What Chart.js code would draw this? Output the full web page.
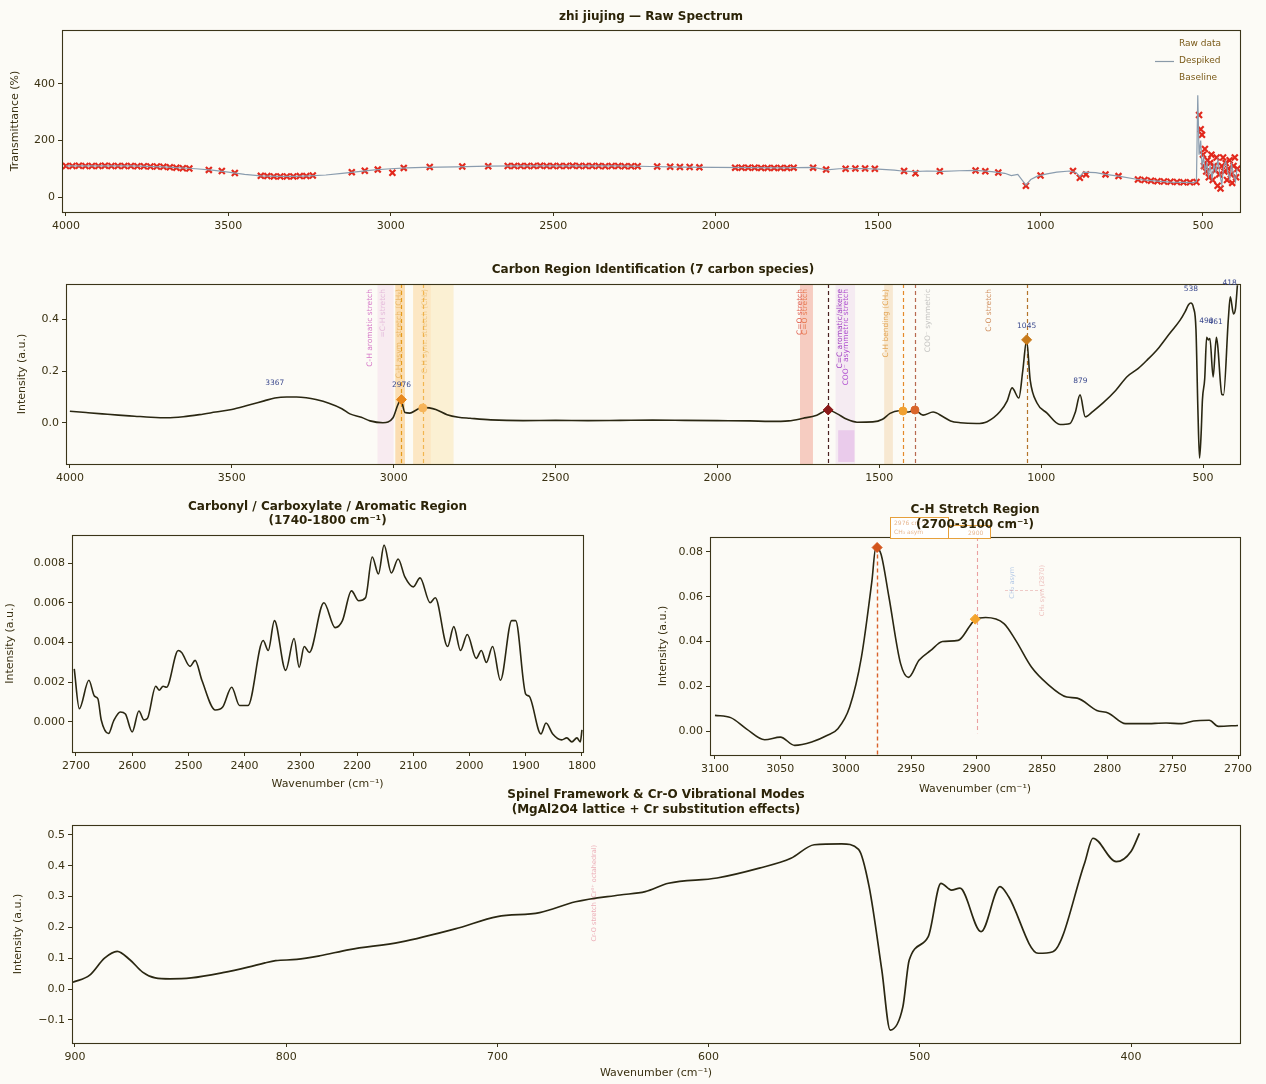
<!DOCTYPE html>
<html><head><meta charset="utf-8">
<script src="https://cdn.jsdelivr.net/npm/chart.js@4.4.1/dist/chart.umd.min.js"></script>
<style>
html,body{margin:0;padding:0;background:#fcfbf6;}
#wrap{position:relative;width:1266px;height:1084px;overflow:hidden;background:#fcfbf6;}
canvas{position:absolute;}
</style></head><body><div id="wrap">
<canvas id="c1" width="1266" height="240" style="left:0;top:0"></canvas>
<canvas id="c2" width="1266" height="250" style="left:0;top:250px"></canvas>
<canvas id="c3" width="600" height="300" style="left:0;top:495px"></canvas>
<canvas id="c4" width="616" height="305" style="left:650px;top:495px"></canvas>
<canvas id="c5" width="1266" height="299" style="left:0;top:785px"></canvas>
</div>
<script>
// ---------------- DATA ----------------
// Panel 1: raw spectrum (transmittance %)
const rawWn = [4000,3980,3960,3940,3920,3900,3880,3860,3840,3820,3800,3780,3760,3740,3720,3700,3680,3660,3640,3620,
  3560,3520,3480,
  3400,3380,3360,3340,3320,3300,3280,3260,3240,
  3120,3080,3040,2995,2960,2880,2780,2700,
  2640,2620,2600,2580,2560,2540,2520,2500,2480,2460,2440,2420,2400,2380,2360,2340,2320,2300,2280,2260,2240,
  2180,2140,2110,2080,2050,
  1940,1920,1900,1880,1860,1840,1820,1800,1780,1760,
  1700,1660,1600,1570,1540,1510,1420,1385,1310,1200,1170,1130,1045,1000,900,879,860,800,760,
  700,680,660,640,620,600,580,560,540,520,
  512,507,503,500,497,494,490,486,482,478,474,470,466,462,458,455,450,446,442,438,434,430,426,422,418,414,410,406,402,398,394];
const rawT = [110,110,111,110,110,110,111,110,110,110,110,109,109,108,108,107,105,104,102,101,
  96,92,85,
  75,74,73,73,73,73,74,74,76,
  88,93,97,86,103,106,108,109,
  110,110,110,110,110,111,110,110,110,110,111,110,110,110,110,109,110,110,109,109,109,
  108,107,106,106,105,
  104,104,104,104,103,103,103,103,103,104,
  104,97,100,101,101,100,92,84,91,94,91,87,40,76,92,68,80,80,74,
  62,60,58,56,55,54,53,52,52,53,
  290,240,220,150,110,170,90,130,70,120,150,60,110,95,140,40,80,30,110,140,90,120,60,100,130,80,50,110,140,70,100];
const despWn = [4000,3900,3800,3700,3600,3550,3500,3450,3400,3350,3300,3250,3200,3150,3100,3050,3000,2950,2900,2800,
  2700,2600,2500,2400,2300,2200,2100,2000,1900,1800,1750,1700,1658,1620,1550,1500,1450,1427,1390,1350,
  1300,1250,1200,1150,1110,1090,1070,1045,1030,1010,980,950,910,890,879,868,830,800,760,700,
  650,600,560,530,520,516,512,507,503,498,493,488,483,478,472,466,460,454,448,442,436,430,424,418,412,406,400,395];
const despT = [110,110,110,107,100,95,88,80,75,73,73,75,78,84,90,96,100,103,105,107,
  109,110,110,110,110,108,106,105,104,103,104,105,96,100,101,99,95,92,90,92,
  91,93,94,90,84,76,80,42,62,74,82,88,92,86,72,88,86,80,74,62,
  57,53,52,51,55,360,150,200,110,140,90,120,75,110,65,115,90,130,80,45,110,125,90,65,115,80,55,100];
const p1XTicks = [4000,3500,3000,2500,2000,1500,1000,500];
const p1YTicks = [0,200,400];
const p1LegendLabels = ['Raw data','Despiked','Baseline'];

// Panel 2: processed spectrum, carbon region identification
const p2Wn = [4000,3950,3900,3850,3800,3750,3700,3650,3600,3550,3500,3450,3400,3367,3330,3300,3270,3240,3200,3160,
  3135,3100,3073,3033,3002,2987,2978,2965,2950,2930,2913,2890,2870,2835,2800,2764,2700,2600,2500,2400,
  2300,2200,2100,2000,1900,1838,1780,1735,1693,1658,1631,1600,1569,1520,1490,1467,1440,1427,1410,1390,
  1365,1334,1303,1280,1250,1200,1167,1127,1105,1090,1069,1057,1045,1034,1013,982,942,911,895,880,
  864,840,809,770,735,700,673,640,611,590,571,555,545,538,530,522,516,511,506,502,
  495,489,484,479,469,459,455,442,437,422,416,406,400,394];
const p2I = [0.045,0.040,0.035,0.030,0.026,0.022,0.020,0.024,0.032,0.042,0.052,0.068,0.085,0.096,0.100,0.100,0.097,0.090,0.076,0.055,
  0.035,0.022,0.008,0.001,0.020,0.070,0.090,0.040,0.038,0.050,0.060,0.058,0.052,0.032,0.022,0.018,0.012,0.009,0.010,0.009,
  0.010,0.011,0.010,0.009,0.008,0.006,0.008,0.018,0.030,0.050,0.036,0.014,0.003,0.004,0.014,0.037,0.047,0.046,0.042,0.050,
  0.030,0.042,0.024,0.008,0.001,-0.002,0.005,0.044,0.085,0.135,0.096,0.200,0.318,0.165,0.077,0.038,-0.006,-0.002,0.040,0.108,
  0.024,0.045,0.077,0.125,0.178,0.210,0.242,0.285,0.332,0.365,0.396,0.430,0.455,0.462,0.445,0.360,0.050,-0.135,-0.040,0.090,
  0.170,0.330,0.320,0.325,0.177,0.330,0.300,0.110,0.108,0.400,0.486,0.420,0.440,0.530];
const p2XTicks = [4000,3500,3000,2500,2000,1500,1000,500];
const p2YTicks = [0.0,0.2,0.4];
const p2PeakWn = [3367,2976,1045,879,538,490,461,418];
const p2PeakI = [0.100,0.092,0.320,0.108,0.462,0.338,0.336,0.486];
const p2MarkWn = [2976,2910,1658,1427,1390,1045];
const p2MarkI = [0.090,0.058,0.050,0.046,0.050,0.320];
const p2VlineWn = [2976,2910,1658,1427,1390,1045];
const p2BandLo = [3000,2965,2885,2815,1705,1575,1458];
const p2BandHi = [3050,2995,2940,2885,1745,1635,1485];
const p2LabelText = ['C-H aromatic stretch','=C-H stretch','C-H asym. stretch (CH\u2083)','C-H sym. stretch (CH\u2082)',
  'C=O stretch','C=O stretch','C=C aromatic/alkene','COO\u207b asymmetric stretch','C-H bending (CH\u2082)','COO\u207b symmetric','C-O stretch'];
const p2LabelWn = [3073,3032,2983,2902,1746,1728,1622,1604,1478,1350,1160];

// Panel 3: carbonyl / carboxylate / aromatic region
const p3Wn = [2703,2694,2677,2667,2661,2655,2642,2633,2621,2612,2600,2588,2579,2573,2558,2552,2545,2539,2518,2512,
  2497,2488,2476,2452,2439,2423,2409,2394,2367,2358,2347,2327,2312,2303,2294,2285,2259,2239,2226,2210,
  2197,2185,2173,2162,2152,2139,2127,2115,2100,2088,2070,2061,2039,2028,2016,2004,1988,1979,1970,1959,
  1945,1925,1918,1900,1894,1873,1864,1852,1836,1827,1818,1809,1803,1800];
const p3I = [0.00267,0.00067,0.0021,0.0013,0.00117,0.0001,-0.00058,0.00005,0.0005,0.0004,-0.0005,0.00055,0.0001,0.00017,0.0018,0.0016,0.0018,0.00175,0.0036,0.0035,
  0.0028,0.0031,0.0021,0.0006,0.00075,0.00175,0.00083,0.00083,0.0041,0.0036,0.0051,0.0026,0.0042,0.00275,0.0038,0.0035,0.006,0.00475,0.0051,0.0066,
  0.0061,0.00625,0.0083,0.00745,0.0089,0.0075,0.0082,0.0073,0.0068,0.00725,0.006,0.00625,0.0038,0.0048,0.0036,0.0044,0.0032,0.0036,0.003,0.0038,
  0.0021,0.0051,0.0051,0.0014,0.0013,-0.0006,-0.00005,-0.0006,-0.0009,-0.0008,-0.001,-0.0008,-0.001,-0.0004];
const p3XTicks = [2700,2600,2500,2400,2300,2200,2100,2000,1900,1800];
const p3YTicks = [0.000,0.002,0.004,0.006,0.008];

// Panel 4: C-H stretch region
const p4Wn = [3100,3088,3076,3062,3050,3039,3026,3014,3006,2997,2988,2980,2977,2973,2967,2958,2952,2944,2935,2926,
  2914,2905,2901,2893,2879,2870,2858,2846,2831,2823,2808,2799,2786,2772,2755,2743,2734,2722,2715,2700];
const p4I = [0.007,0.006,0.001,-0.0039,-0.0027,-0.0064,-0.0049,-0.0019,0.001,0.0107,0.033,0.067,0.082,0.079,0.06,0.03,0.024,0.0316,0.036,0.04,
  0.0405,0.047,0.050,0.0507,0.048,0.0405,0.0286,0.0212,0.0152,0.0147,0.0092,0.008,0.0033,0.0033,0.0036,0.0033,0.0045,0.0048,0.0021,0.0025];
const p4XTicks = [3100,3050,3000,2950,2900,2850,2800,2750,2700];
const p4YTicks = [0.00,0.02,0.04,0.06,0.08];
const p4MarkWn = [2976,2901];
const p4MarkI = [0.082,0.050];

// Panel 5: spinel framework & Cr-O modes
const p5Wn = [901,893,886,880,874,868,862,855,845,830,818,810,805,795,784,770,746,720,700,680,
  663,642,630,619,596,576,561,550,537,529,524,518,514,508,505,496,490,485,481,471,
  462,458,444,437,422,418,407,400,396];
const p5I = [0.022,0.045,0.100,0.122,0.095,0.055,0.036,0.033,0.036,0.053,0.071,0.085,0.092,0.096,0.108,0.128,0.152,0.195,0.235,0.248,
  0.283,0.305,0.316,0.343,0.360,0.392,0.424,0.468,0.471,0.453,0.332,0.062,-0.133,-0.057,0.094,0.170,0.343,0.321,0.327,0.186,
  0.332,0.300,0.116,0.121,0.408,0.489,0.413,0.446,0.505];
const p5XTicks = [900,800,700,600,500,400];
const p5YTicks = [-0.1,0.0,0.1,0.2,0.3,0.4,0.5];

// ---------------- STYLE / HELPERS ----------------
const FONT = "'DejaVu Sans', 'Liberation Sans', sans-serif";
const TXT = '#3a3112';
const AX = '#3b3519';
const LINE = '#2a2712';
const pts = (xs, ys) => xs.map((x, i) => ({x: x, y: ys[i]}));
const minus = s => s.replace('-', '\u2212');

function gridOpts() {
  return {display: true, drawOnChartArea: false, drawTicks: true, tickLength: 4, color: AX, lineWidth: 1};
}

function buildPanel(id, o) {
  const framePlugin = {
    id: 'frame',
    afterDatasetsDraw(chart) {
      const ctx = chart.ctx, a = chart.chartArea;
      ctx.save();
      ctx.strokeStyle = AX; ctx.lineWidth = 1.1;
      ctx.strokeRect(Math.round(a.left) + 0.5, Math.round(a.top) + 0.5, Math.round(a.right - a.left), Math.round(a.bottom - a.top));
      ctx.restore();
    }
  };
  const titlePlugin = {
    id: 'ptitle',
    afterDraw(chart) {
      const ctx = chart.ctx, a = chart.chartArea;
      ctx.save();
      ctx.fillStyle = '#2c2408';
      ctx.font = 'bold 12px ' + FONT;
      ctx.textAlign = 'center'; ctx.textBaseline = 'middle';
      o.titles.forEach(t => ctx.fillText(t.text, (a.left + a.right) / 2, t.y));
      ctx.restore();
    }
  };
  return new Chart(document.getElementById(id), {
    type: 'line',
    data: {datasets: o.datasets},
    options: {
      responsive: false, animation: false, devicePixelRatio: 1, events: [],
      layout: {padding: {left: 0, top: o.padTop, right: o.padRight, bottom: 0}},
      plugins: {legend: {display: false}, tooltip: {enabled: false}, title: {display: false}},
      elements: {point: {radius: 0}},
      scales: {
        x: {
          type: 'linear', reverse: true, min: o.xLo, max: o.xHi,
          afterBuildTicks: s => { s.ticks = o.xTicks.map(v => ({value: v})); },
          afterFit: s => { s.height = o.xAxisH; },
          grid: gridOpts(), border: {display: false},
          ticks: {color: TXT, font: {family: FONT, size: 11}, padding: 4, maxRotation: 0, autoSkip: false, callback: v => String(v)},
          title: {display: !!o.xTitle, text: o.xTitle || '', color: TXT, font: {family: FONT, size: 11}, padding: {top: 0, bottom: 4}}
        },
        y: {
          type: 'linear', min: o.yLo, max: o.yHi,
          afterBuildTicks: s => { s.ticks = o.yTicks.map(v => ({value: v})); },
          afterFit: s => { s.width = o.yAxisW; },
          grid: gridOpts(), border: {display: false},
          ticks: {color: TXT, font: {family: FONT, size: 11}, padding: 3, autoSkip: false, callback: o.yFmt},
          title: {display: true, text: o.yTitle, color: TXT, font: {family: FONT, size: 11}, padding: {top: o.yTitlePad, bottom: 0}}
        }
      }
    },
    plugins: [framePlugin, titlePlugin].concat(o.extra || [])
  });
}

function rotText(ctx, text, x, yTop, color, size) {
  ctx.save();
  ctx.translate(x, yTop);
  ctx.rotate(-Math.PI / 2);
  ctx.font = size + 'px ' + FONT;
  ctx.fillStyle = color;
  ctx.textAlign = 'right';
  ctx.textBaseline = 'middle';
  ctx.fillText(text, 0, 0);
  ctx.restore();
}
function vDash(ctx, x, y0, y1, color, w) {
  ctx.save();
  ctx.strokeStyle = color; ctx.lineWidth = w || 1.2;
  ctx.setLineDash([4, 3]);
  ctx.beginPath(); ctx.moveTo(Math.round(x) + 0.5, y0); ctx.lineTo(Math.round(x) + 0.5, y1); ctx.stroke();
  ctx.restore();
}

// ---------------- PANEL 1 ----------------
const p1Legend = {
  id: 'p1legend',
  afterDraw(chart) {
    const ctx = chart.ctx;
    ctx.save();
    ctx.font = '9px ' + FONT;
    ctx.fillStyle = '#7a5a18';
    ctx.textAlign = 'left'; ctx.textBaseline = 'middle';
    const ys = [44, 61, 78];
    p1LegendLabels.forEach((t, i) => ctx.fillText(t, 1179, ys[i]));
    ctx.strokeStyle = '#8a9aa8'; ctx.lineWidth = 1.2;
    ctx.beginPath(); ctx.moveTo(1155, 61.5); ctx.lineTo(1174, 61.5); ctx.stroke();
    ctx.restore();
  }
};
buildPanel('c1', {
  datasets: [
    {data: pts(rawWn, rawT), showLine: false, pointStyle: 'crossRot', pointRadius: 4.2, pointBorderWidth: 2.2,
     pointBorderColor: '#e2281c', pointBackgroundColor: '#e2281c', order: 2},
    {data: pts(despWn, despT), borderColor: '#8a9cae', borderWidth: 1.2, tension: 0, order: 1}
  ],
  xLo: 386, xHi: 4012, xTicks: p1XTicks,
  yLo: -53, yHi: 591, yTicks: p1YTicks, yFmt: v => String(v),
  yAxisW: 62, xAxisH: 28, padTop: 30, padRight: 26,
  yTitle: 'Transmittance (%)', yTitlePad: 9,
  titles: [{text: 'zhi jiujing \u2014 Raw Spectrum', y: 17}],
  extra: [p1Legend]
});

// ---------------- PANEL 2 ----------------
const p2BandColors = ['rgba(226,130,200,0.13)','rgba(250,160,30,0.32)','rgba(252,185,80,0.30)','rgba(252,205,100,0.24)',
  'rgba(232,95,70,0.30)','rgba(190,100,210,0.10)','rgba(235,170,90,0.24)'];
const p2VlineColors = ['#e39a1c','#f2b550','#4a2020','#e58a2a','#b86a50','#b4742a'];
const p2LabelColors = ['#d67ac8','rgba(210,140,200,0.5)','rgba(220,150,40,0.55)','rgba(230,170,70,0.5)',
  '#e06050','#e87a50','#a040c0','#b050d0','#e2a555','rgba(150,150,150,0.55)','#d09060'];
const p2Annot = {
  id: 'p2annot',
  beforeDatasetsDraw(chart) {
    const ctx = chart.ctx, a = chart.chartArea, xs = chart.scales.x, ys = chart.scales.y;
    ctx.save();
    p2BandLo.forEach((lo, i) => {
      const x0 = xs.getPixelForValue(p2BandHi[i]), x1 = xs.getPixelForValue(lo);
      ctx.fillStyle = p2BandColors[i];
      ctx.fillRect(x0, a.top, x1 - x0, a.bottom - a.top);
    });
    // purple lower patch
    const px0 = xs.getPixelForValue(1627), px1 = xs.getPixelForValue(1577);
    const py0 = ys.getPixelForValue(-0.028), py1 = ys.getPixelForValue(-0.150);
    ctx.fillStyle = 'rgba(205,120,215,0.28)';
    ctx.fillRect(px0, py0, px1 - px0, py1 - py0);
    ctx.restore();
    p2VlineWn.forEach((w, i) => vDash(ctx, xs.getPixelForValue(w), a.top, a.bottom, p2VlineColors[i], 1.2));
    p2LabelText.forEach((t, i) => rotText(ctx, t, xs.getPixelForValue(p2LabelWn[i]), a.top + 5, p2LabelColors[i], 7.5));
  },
  afterDatasetsDraw(chart) {
    const ctx = chart.ctx, xs = chart.scales.x, ys = chart.scales.y;
    ctx.save();
    ctx.font = '7.5px ' + FONT;
    ctx.fillStyle = '#3c4a8e';
    ctx.textAlign = 'center'; ctx.textBaseline = 'middle';
    p2PeakWn.forEach((w, i) => ctx.fillText(String(w), xs.getPixelForValue(w), ys.getPixelForValue(p2PeakI[i]) - 14));
    ctx.restore();
  }
};
buildPanel('c2', {
  datasets: [
    {data: pts(p2MarkWn, p2MarkI), showLine: false, pointRadius: [5, 4, 5, 4, 4, 5],
     pointStyle: ['rectRot', 'circle', 'rectRot', 'circle', 'circle', 'rectRot'],
     pointBackgroundColor: ['#e8891e', '#f6b45a', '#8b1a1a', '#f0a030', '#d9652a', '#c87a1a'],
     pointBorderColor: ['#e8891e', '#f6b45a', '#8b1a1a', '#f0a030', '#d9652a', '#c87a1a'], order: 1},
    {data: pts(p2Wn, p2I), borderColor: LINE, borderWidth: 1.6, cubicInterpolationMode: 'monotone', order: 2}
  ],
  xLo: 386, xHi: 4012, xTicks: p2XTicks,
  yLo: -0.158, yHi: 0.535, yTicks: p2YTicks, yFmt: v => v.toFixed(1),
  yAxisW: 66, xAxisH: 36, padTop: 34, padRight: 26,
  yTitle: 'Intensity (a.u.)', yTitlePad: 16,
  titles: [{text: 'Carbon Region Identification (7 carbon species)', y: 20}],
  extra: [p2Annot]
});

// ---------------- PANEL 3 ----------------
buildPanel('c3', {
  datasets: [{data: pts(p3Wn, p3I), borderColor: LINE, borderWidth: 1.6, cubicInterpolationMode: 'monotone'}],
  xLo: 1798, xHi: 2707, xTicks: p3XTicks, xTitle: 'Wavenumber (cm\u207b\u00b9)',
  yLo: -0.00151, yHi: 0.00941, yTicks: p3YTicks, yFmt: v => v.toFixed(3),
  yAxisW: 72, xAxisH: 43, padTop: 40, padRight: 13,
  yTitle: 'Intensity (a.u.)', yTitlePad: 4,
  titles: [{text: 'Carbonyl / Carboxylate / Aromatic Region', y: 12}, {text: '(1740-1800 cm\u207b\u00b9)', y: 26}]
});

// ---------------- PANEL 4 ----------------
const p4Annot = {
  id: 'p4annot',
  beforeDatasetsDraw(chart) {
    const ctx = chart.ctx, a = chart.chartArea, xs = chart.scales.x, ys = chart.scales.y;
    vDash(ctx, xs.getPixelForValue(p4MarkWn[0]), ys.getPixelForValue(p4MarkI[0]), a.bottom, '#d9622b', 1.4);
    vDash(ctx, xs.getPixelForValue(2900), a.top, ys.getPixelForValue(-0.001), '#eaa0a0', 1.1);
    rotText(ctx, 'CH\u2082 asym', 362, 72, 'rgba(90,140,210,0.45)', 6.5);
    rotText(ctx, 'CH\u2083 sym (2870)', 392, 70, 'rgba(220,120,120,0.45)', 6.5);
    ctx.save();
    ctx.strokeStyle = 'rgba(220,130,130,0.4)'; ctx.lineWidth = 1; ctx.setLineDash([3, 2]);
    ctx.beginPath(); ctx.moveTo(355, 95.5); ctx.lineTo(392, 95.5); ctx.stroke();
    ctx.restore();
  },
  afterDatasetsDraw(chart) {
    const ctx = chart.ctx;
    ctx.save();
    ctx.fillStyle = '#ffffff';
    ctx.strokeStyle = '#e6a03c'; ctx.lineWidth = 1;
    ctx.fillRect(240, 22, 58, 21); ctx.strokeRect(240.5, 22.5, 58, 21);
    ctx.fillRect(298, 30, 42, 13); ctx.strokeRect(298.5, 30.5, 42, 13);
    ctx.font = '6px ' + FONT; ctx.fillStyle = 'rgba(210,120,50,0.55)';
    ctx.textAlign = 'left'; ctx.textBaseline = 'middle';
    ctx.fillText('2976 cm\u207b\u00b9', 244, 28);
    ctx.fillText('CH\u2083 asym', 244, 37);
    ctx.fillText('2900', 318, 38);
    ctx.restore();
  }
};
buildPanel('c4', {
  datasets: [
    {data: pts(p4MarkWn, p4MarkI), showLine: false, pointRadius: 5, pointStyle: 'rectRot',
     pointBackgroundColor: ['#d2541c', '#f3a42c'], pointBorderColor: ['#d2541c', '#f3a42c'], order: 1},
    {data: pts(p4Wn, p4I), borderColor: LINE, borderWidth: 1.6, cubicInterpolationMode: 'monotone', order: 2}
  ],
  xLo: 2698.5, xHi: 3103.8, xTicks: p4XTicks, xTitle: 'Wavenumber (cm\u207b\u00b9)',
  yLo: -0.0107, yHi: 0.0867, yTicks: p4YTicks, yFmt: v => v.toFixed(2),
  yAxisW: 60, xAxisH: 45, padTop: 42, padRight: 26,
  yTitle: 'Intensity (a.u.)', yTitlePad: 7,
  titles: [{text: 'C-H Stretch Region', y: 15}, {text: '(2700-3100 cm\u207b\u00b9)', y: 30}],
  extra: [p4Annot]
});

// ---------------- PANEL 5 ----------------
const p5Annot = {
  id: 'p5annot',
  beforeDatasetsDraw(chart) {
    const ctx = chart.ctx, a = chart.chartArea, xs = chart.scales.x;
    rotText(ctx, 'Cr-O stretch (Cr\u00b3\u207a octahedral)', xs.getPixelForValue(654), a.top + 20, 'rgba(225,120,140,0.6)', 6.5);
  }
};
buildPanel('c5', {
  datasets: [{data: pts(p5Wn, p5I), borderColor: LINE, borderWidth: 1.7, cubicInterpolationMode: 'monotone'}],
  xLo: 348.4, xHi: 901.4, xTicks: p5XTicks, xTitle: 'Wavenumber (cm\u207b\u00b9)',
  yLo: -0.175, yHi: 0.532, yTicks: p5YTicks, yFmt: v => minus(v.toFixed(1)),
  yAxisW: 72, xAxisH: 41, padTop: 40, padRight: 26,
  yTitle: 'Intensity (a.u.)', yTitlePad: 12,
  titles: [{text: 'Spinel Framework & Cr-O Vibrational Modes', y: 10}, {text: '(MgAl2O4 lattice + Cr substitution effects)', y: 25}],
  extra: [p5Annot]
});
</script>
</body></html>
